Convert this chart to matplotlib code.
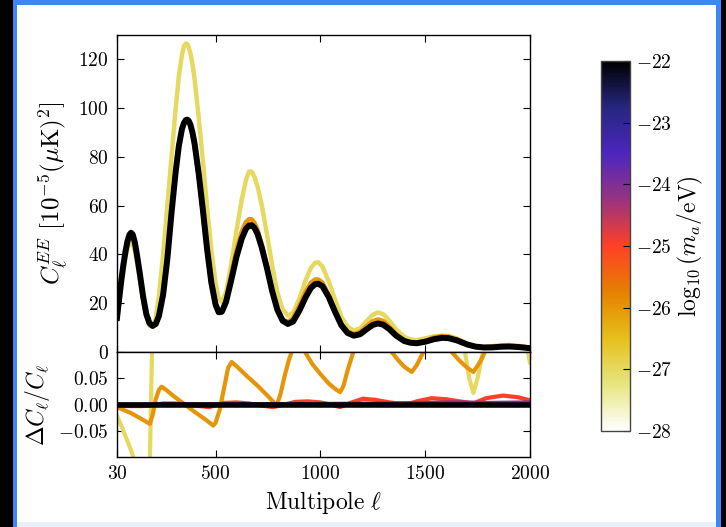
import numpy as np
import matplotlib
matplotlib.use('Agg')
import matplotlib.pyplot as plt
from matplotlib.patches import Rectangle
from matplotlib.colors import Normalize
from matplotlib.cm import ScalarMappable

plt.rcParams['mathtext.fontset'] = 'cm'
plt.rcParams['font.family'] = 'serif'
plt.rcParams['font.serif'] = ['cmr10', 'DejaVu Serif']

# multipoles for the spectra (upper panel)
ell_up = [30, 40, 50, 60, 70, 80, 90, 97, 105, 115,
          125, 140, 155, 170, 185, 200, 215, 230, 250, 270,
          290, 310, 325, 340, 350, 358, 365, 372, 380, 390,
          400, 420, 440, 460, 480, 500, 515, 530, 550, 575,
          600, 625, 645, 660, 672, 685, 700, 720, 745, 770,
          795, 820, 845, 870, 900, 930, 955, 975, 990, 1010,
          1040, 1070, 1100, 1130, 1160, 1190, 1220, 1250, 1275, 1300,
          1330, 1360, 1400, 1430, 1460, 1500, 1540, 1580, 1610, 1650,
          1700, 1740, 1780, 1820, 1860, 1900, 1950, 2000]

# C_l^EE in 1e-5 muK^2, log10(m_a/eV) = -22 (reference)
cl_m22 = [14, 21.5, 29, 35.5, 41, 45.5, 48.2, 48.9, 48.2, 45,
          40, 31.5, 22.5, 15.5, 11.8, 10.7, 11.5, 14.8, 23.5, 38,
          57, 74, 84.5, 91.5, 94, 95.1, 95.3, 94.8, 93.3, 90,
          85.5, 73, 58, 42, 28.5, 19.5, 16.3, 16.5, 20.5, 29.5,
          39, 46.5, 50.5, 51.9, 52, 51, 48.5, 43, 34.5, 25,
          17.3, 12.8, 11.5, 12.5, 17, 22.5, 26.3, 27.8, 28, 27,
          22.5, 16.5, 11, 7.8, 6.7, 7.3, 9.3, 11.1, 11.7, 11.2,
          9.3, 6.8, 4.5, 3.8, 3.6, 4.2, 5.2, 5.8, 5.7, 4.8,
          3.1, 2.2, 1.85, 1.9, 2.15, 2.25, 2.0, 1.55]

cl_m25 = [13.97, 21.45, 28.93, 35.4, 40.9, 45.4, 48.05, 48.75, 48.05, 44.87,
          39.88, 31.4, 22.43, 15.46, 11.77, 10.68, 11.5, 14.83, 23.55, 38.07,
          57.1, 74.1, 84.6, 91.55, 94.05, 95.1, 95.25, 94.7, 93.15, 89.8,
          85.3, 72.8, 57.8, 41.8, 28.37, 19.43, 16.26, 16.5, 20.55, 29.6,
          39.15, 46.65, 50.6, 51.98, 52.06, 51.05, 48.5, 42.95, 34.4, 24.9,
          17.23, 12.79, 11.52, 12.55, 17.08, 22.63, 26.45, 27.96, 28.14, 27.1,
          22.52, 16.47, 10.95, 7.81, 6.73, 7.36, 9.4, 11.21, 11.81, 11.29,
          9.34, 6.81, 4.5, 3.81, 3.62, 4.24, 5.26, 5.86, 5.75, 4.83,
          3.11, 2.2, 1.87, 1.93, 2.19, 2.29, 2.03, 1.56]

cl_m26 = [13.93, 21.35, 28.77, 35.15, 40.5, 44.9, 47.5, 48.1, 47.3, 44.1,
          39.1, 30.7, 21.85, 15, 11.36, 10.49, 11.6, 15.2, 24.25, 39,
          58.1, 75, 85.3, 92, 94.1, 95, 95, 94.3, 92.55, 89,
          84.3, 71.5, 56.5, 40.65, 27.4, 18.8, 16.05, 16.6, 21.5, 31.9,
          41.8, 49.5, 53.3, 54.5, 54.45, 53.1, 50.25, 44.2, 35.1, 25.2,
          17.3, 13.3, 12.4, 13.9, 19, 24.75, 28.4, 29.75, 29.75, 28.5,
          23.4, 17, 11.3, 8.3, 7.37, 8.25, 10.6, 12.65, 13.35, 12.75,
          10.3, 7.4, 4.82, 4.04, 3.87, 4.66, 5.93, 6.55, 6.33, 5.23,
          3.32, 2.34, 2.03, 2.15, 2.45, 2.57, 2.28, 1.77]

cl_m27 = [13.7, 20, 27, 33, 38.5, 42.5, 44.7, 45, 44.3, 41.5,
          37, 29.5, 21, 14.5, 10.8, 10.4, 14, 23, 40, 60,
          80, 100, 113, 122, 125.5, 126.5, 126.3, 125, 122.5, 118,
          112, 96, 78, 59, 42, 28.5, 22, 20.5, 24.5, 36,
          50, 62.5, 70.5, 74, 74, 72, 68, 60.5, 48.5, 35.5,
          24.5, 17.5, 15, 16, 22, 29.5, 34.5, 36.6, 36.8, 35,
          29, 21.5, 14.5, 10.3, 8.8, 9.7, 12.6, 15.3, 16.2, 15.5,
          12.8, 9.4, 6.2, 5.1, 4.9, 5.6, 6.4, 6.7, 6.6, 5.6,
          3.5, 2.25, 2.05, 2.4, 2.8, 2.9, 2.5, 1.75]

# fractional differences (lower panel)
ell_d27 = [30, 45, 60, 80, 100, 110, 125, 140, 160, 175, 187, 192, 197, 205,
           400, 800, 1200, 1600, 1660, 1690, 1710, 1730, 1750, 1776,
           1800, 1900, 1980, 1990, 2000]
d_m27 = [-0.022, -0.035, -0.05, -0.07, -0.09, -0.105, -0.13, -0.17, -0.22, -0.2,
         -0.1, 0.0, 0.1, 0.2, 0.3, 0.3, 0.3, 0.2, 0.14, 0.1, 0.05, 0.022,
         0.05, 0.1, 0.2, 0.3, 0.13, 0.1, 0.08]

ell_d26 = [30, 60, 100, 140, 170, 187, 200, 215, 230, 243, 270, 300, 350,
           400, 450, 489, 500, 520, 540, 560, 577, 600, 650, 700, 750, 792,
           810, 830, 850, 863, 880, 900, 927, 960, 1000, 1040, 1070, 1094,
           1110, 1130, 1157, 1200, 1300, 1340, 1370, 1400, 1436, 1460, 1491,
           1550, 1600, 1627, 1660, 1700, 1730, 1760, 1785, 1850, 2000]
d_m26 = [-0.005, -0.010, -0.017, -0.026, -0.033, -0.037, -0.02, 0.01, 0.028,
         0.034, 0.026, 0.016, 0.001, -0.014, -0.028, -0.040, -0.035, -0.01,
         0.03, 0.07, 0.081, 0.073, 0.054, 0.036, 0.016, -0.002, 0.02, 0.055,
         0.085, 0.1, 0.12, 0.12, 0.1, 0.078, 0.058, 0.04, 0.03, 0.0235,
         0.035, 0.065, 0.1, 0.14, 0.14, 0.1, 0.085, 0.072, 0.062, 0.075, 0.1,
         0.14, 0.12, 0.1, 0.085, 0.07, 0.062, 0.08, 0.1, 0.14, 0.14]

ell_d25 = [30, 100, 150, 200, 250, 300, 350, 400, 470, 540, 600, 660, 720,
           775, 830, 880, 940, 1000, 1050, 1094, 1150, 1203, 1260, 1330,
           1410, 1460, 1530, 1600, 1680, 1730, 1790, 1870, 1940, 2000]
d_m25 = [-0.002, -0.003, -0.003, -0.002, 0.002, 0.002, 0.001, -0.002,
         -0.005, 0.003, 0.004, 0.002, -0.002, -0.005, 0.0, 0.005, 0.006,
         0.004, 0.0, -0.005, 0.004, 0.011, 0.009, 0.004, 0.0, 0.006, 0.012,
         0.010, 0.005, 0.002, 0.012, 0.017, 0.014, 0.008]

ell_d24 = [30, 500, 1000, 1300, 1500, 1650, 1800, 2000]
d_m24 = [0.0, 0.0005, 0.001, 0.002, 0.003, 0.004, 0.003, 0.004]

ell_ref = [30, 2000]
d_ref = [0.0, 0.0]

masses = [-27, -26, -25, -24, -22]
mass_min, mass_max = -28, -22
x_ticks = [30, 500, 1000, 1500, 2000]

cmap = plt.get_cmap('CMRmap_r')
norm = Normalize(vmin=mass_min, vmax=mass_max)

fig = plt.figure(figsize=(7.26, 5.27), dpi=100)
fig.patch.set_facecolor('black')
W, H = 726.0, 527.0
# slide frame: blue border, white inside, pale strip at the bottom
fig.add_artist(Rectangle((13 / W, 0), (721 - 13) / W, 1, transform=fig.transFigure,
                         facecolor='#3f86f2', edgecolor='none', zorder=-10))
fig.add_artist(Rectangle((17 / W, 5 / H), (716 - 17) / W, (522 - 5) / H, transform=fig.transFigure,
                         facecolor='white', edgecolor='none', zorder=-9))
fig.add_artist(Rectangle((17 / W, 0), (716 - 17) / W, 5 / H, transform=fig.transFigure,
                         facecolor='#e8f1fb', edgecolor='none', zorder=-9))

ax1 = fig.add_axes([117 / W, 1 - 352 / H, 413 / W, 317 / H])
ax2 = fig.add_axes([117 / W, 1 - 457 / H, 413 / W, 105 / H], sharex=ax1)

# upper panel: spectra
for m, cl in zip([-27, -26, -25, -22], [cl_m27, cl_m26, cl_m25, cl_m22]):
    lw = 4.3 if m == -22 else 3.2
    ax1.plot(ell_up, cl, color=cmap(norm(m)), lw=lw, solid_joinstyle='round')

# lower panel: fractional differences
for m, ell, d in zip(masses, [ell_d27, ell_d26, ell_d25, ell_d24, ell_ref],
                     [d_m27, d_m26, d_m25, d_m24, d_ref]):
    lw = 4.0 if m == -22 else 3.0
    ax2.plot(ell, d, color=cmap(norm(m)), lw=lw, solid_joinstyle='round')

ax1.set_xlim(30, 2000)
ax1.set_ylim(0, 130)
ax2.set_ylim(-0.1, 0.1)

ax1.set_yticks([0, 20, 40, 60, 80, 100, 120])
ax1.set_yticklabels(['$%d$' % v for v in [0, 20, 40, 60, 80, 100, 120]])
ax2.set_yticks([-0.05, 0.0, 0.05])
ax2.set_yticklabels(['$-0.05$', '$0.00$', '$0.05$'])
ax2.set_xticks(x_ticks)
ax2.set_xticklabels(['$%d$' % v for v in x_ticks])
plt.setp(ax1.get_xticklabels(), visible=False)

for ax in (ax1, ax2):
    ax.tick_params(direction='in', top=True, right=True, length=5, width=0.8,
                   labelsize=14, pad=6)
    for s in ax.spines.values():
        s.set_linewidth(1.0)

ax1.set_ylabel(r'$C_\ell^{EE}\ [10^{-5}(\mu\mathrm{K})^2]$', fontsize=18, labelpad=6)
ax2.set_ylabel(r'$\Delta C_\ell/C_\ell$', fontsize=17, labelpad=4)
ax2.set_xlabel(r'$\mathrm{Multipole}\ \ell$', fontsize=17, labelpad=4)

# colorbar
cax = fig.add_axes([601 / W, 1 - 431 / H, 28.5 / W, 370 / H])
sm = ScalarMappable(norm=norm, cmap=cmap)
cb = fig.colorbar(sm, cax=cax)
cb_ticks = [-28, -27, -26, -25, -24, -23, -22]
cb.set_ticks(cb_ticks)
cb.set_ticklabels(['$%d$' % v for v in cb_ticks])
cb.ax.tick_params(direction='in', length=5, width=0.8, labelsize=14, pad=5)
cb.outline.set_edgecolor('#444444')
cb.outline.set_linewidth(1.0)
cb.set_label(r'$\log_{10}(m_a/\mathrm{eV})$', fontsize=17, labelpad=2)

fig.savefig('out.png', dpi=100, facecolor=fig.get_facecolor())
